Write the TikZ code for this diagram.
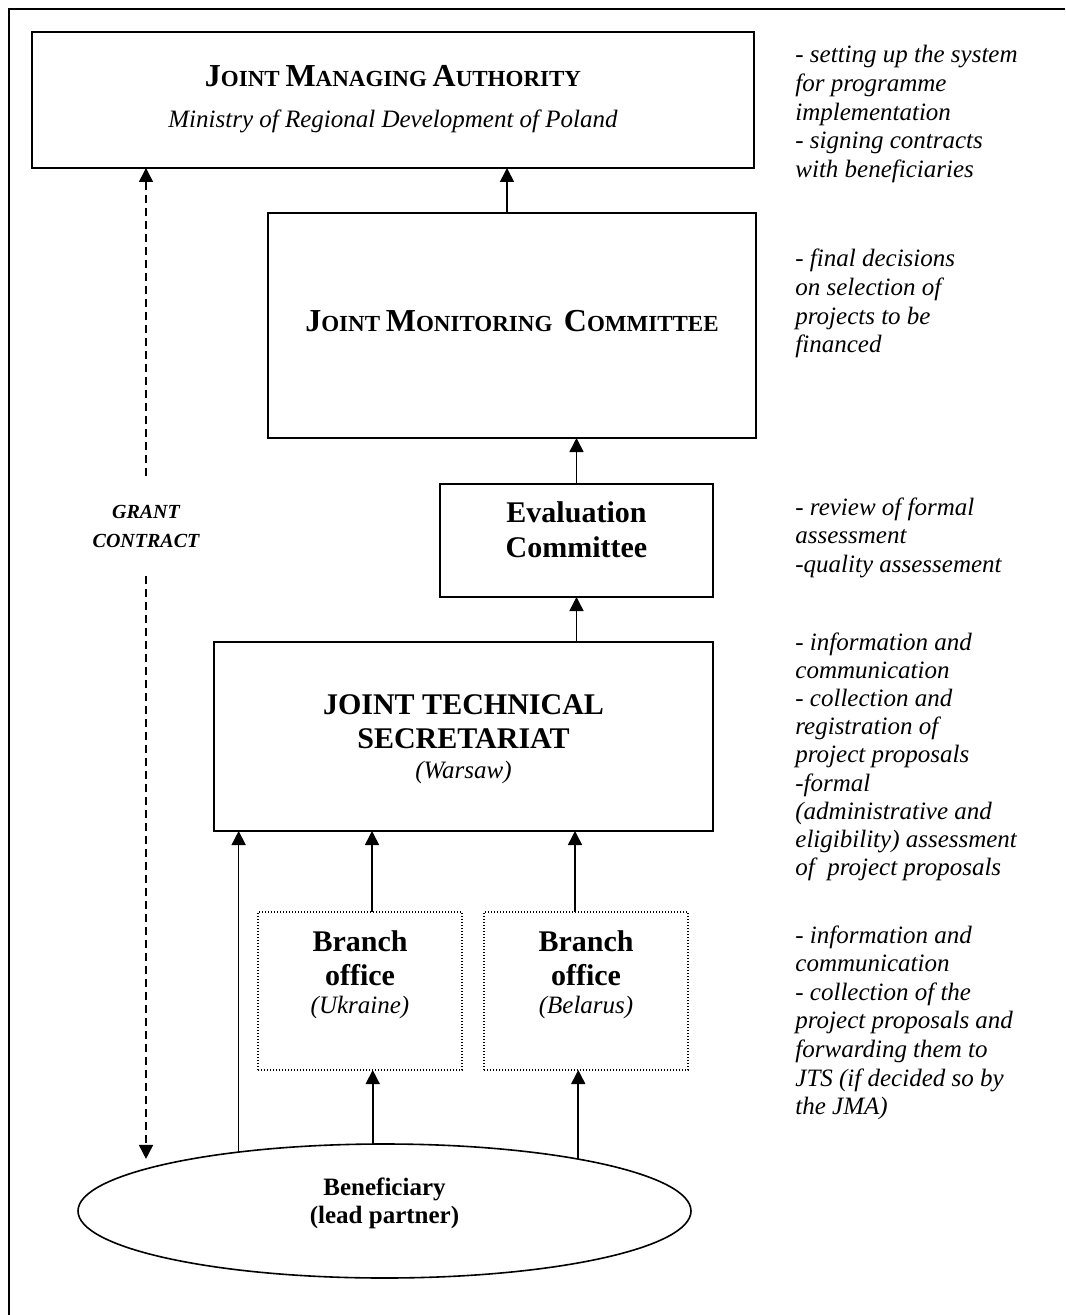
\documentclass[tikz,border=0pt]{standalone}
\usepackage{fontspec}
\setmainfont{Liberation Serif}
\usetikzlibrary{arrows.meta,shapes.geometric}
\newcommand\capsm[2]{{\fontsize{16}{18}\selectfont #1}{\fontsize{11.5}{13}\selectfont #2}}
\newcommand\rlines[1]{\begin{tabular}[t]{@{}l@{}}#1\end{tabular}}
\begin{document}
\begin{tikzpicture}[x=0.5pt,y=-0.5pt,
  box/.style={draw,line width=0.8pt,rectangle,inner sep=0pt,outer sep=0pt},
  dotbox/.style={draw,line width=0.6pt,dash pattern=on 0.6pt off 0.9pt,inner sep=0pt,outer sep=0pt},
  arr/.style={line width=0.8pt,-{Triangle[length=7pt,width=7pt]}},
  dasharr/.style={arr,dash pattern=on 4pt off 2.5pt},
  ttl/.style={anchor=base,inner sep=0pt,font=\bfseries\fontsize{15}{17}\selectfont},
  btl/.style={anchor=base,inner sep=0pt,font=\bfseries\fontsize{12.5}{14}\selectfont},
  itl/.style={anchor=base,inner sep=0pt,font=\itshape\fontsize{12.5}{14}\selectfont},
  sct/.style={anchor=base,inner sep=0pt,font=\bfseries\fontsize{11.5}{13}\selectfont},
  note/.style={anchor=base west,inner sep=0pt,font=\itshape\fontsize{12.5}{14.3}\selectfont},
  notetight/.style={anchor=base west,inner sep=0pt,font=\itshape\fontsize{12.5}{14.1}\selectfont}]
\useasboundingbox[fill=white] (0,0) rectangle (1065,1315);
\draw[line width=1pt] (9,1315) -- (9,9) -- (1065,9);

% boxes
\node[box,minimum width=361pt,minimum height=68pt] (jma) at (393,100) {};
\node[sct] (jmat) at (393,87) {\capsm{J}{OINT} \capsm{M}{ANAGING} \capsm{A}{UTHORITY}};
\node[itl] (jmas) at (393,128) {Ministry of Regional Development of Poland};

\node[box,minimum width=244pt,minimum height=112.5pt] (jmc) at (512,325.5) {};
\node[sct] (jmct) at (512,332) {\capsm{J}{OINT} \capsm{M}{ONITORING}\ \ \capsm{C}{OMMITTEE}};

\node[box,minimum width=136.5pt,minimum height=56.5pt] (eval) at (576.5,540.5) {};
\node[ttl] (evt1) at (576.5,522) {Evaluation};
\node[ttl] (evt2) at (576.5,557) {Committee};

\node[box,minimum width=249.5pt,minimum height=94.5pt] (jts) at (463.5,736.5) {};
\node[ttl] (jtst1) at (463.5,714) {JOINT TECHNICAL};
\node[ttl] (jtst2) at (463.5,748) {SECRETARIAT};
\node[itl] (jtst3) at (463.5,778) {(Warsaw)};

\node[dotbox,minimum width=102pt,minimum height=79pt] (ukr) at (360,991) {};
\node[ttl] (ukrt1) at (360,951) {Branch};
\node[ttl] (ukrt2) at (360,985) {office};
\node[itl] (ukrt3) at (360,1013) {(Ukraine)};

\node[dotbox,minimum width=102pt,minimum height=79pt] (bel) at (586,991) {};
\node[ttl] (belt1) at (586,951) {Branch};
\node[ttl] (belt2) at (586,985) {office};
\node[itl] (belt3) at (586,1013) {(Belarus)};

\node[draw,ellipse,line width=0.8pt,minimum width=306.5pt,minimum height=67pt,inner sep=0pt,outer sep=0pt] (ben) at (384.5,1211) {};
\node[btl] (bent1) at (384.5,1195) {Beneficiary};
\node[btl] (bent2) at (384.5,1223) {(lead partner)};

\node[inner sep=0pt,minimum height=50pt,align=center,font=\bfseries\itshape\fontsize{10}{14.5}\selectfont] (grant) at (146,526) {GRANT\\CONTRACT};

% notes
\node[note] (n1) at (795,63) {\rlines{- setting up the system\\for programme\\implementation\\- signing contracts\\with beneficiaries}};
\node[note] (n2) at (795,267) {\rlines{- final decisions\\on selection of\\projects to be\\financed}};
\node[note] (n3) at (795,515) {\rlines{- review of formal\\assessment\\-quality assessement}};
\node[notetight] (n4) at (795,650) {\rlines{- information and\\communication\\- collection and\\registration of\\project proposals\\-formal\\(administrative and\\eligibility) assessment\\of~ project proposals}};
\node[note] (n5) at (795,943) {\rlines{- information and\\communication\\- collection of the\\project proposals and\\forwarding them to\\JTS (if decided so by\\the JMA)}};

% connectors
\coordinate (xm) at (507,0);
\coordinate (xu) at (372,0);
\coordinate (xb) at (575,0);
\draw[arr] (jmc.north -| xm) -- (jma.south -| xm);
\draw[arr] (eval.north) -- (eval.north |- jmc.south);
\draw[arr] (jts.north -| eval.north) -- (eval.south);
\draw[arr] (ukr.north -| xu) -- (jts.south -| xu);
\draw[arr] (bel.north -| xb) -- (jts.south -| xb);
\draw[arr] (ben.158.3) -- (ben.158.3 |- jts.south);
\draw[arr] (ben.100.6) -- (ben.100.6 |- ukr.south);
\draw[arr] (ben.15.5) -- (ben.15.5 |- bel.south);
\draw[dasharr] (grant.north) -- (grant.north |- jma.south);
\draw[dasharr,shorten >=5pt] (grant.south) -- (grant.south |- ben.170);
\end{tikzpicture}
\end{document}
